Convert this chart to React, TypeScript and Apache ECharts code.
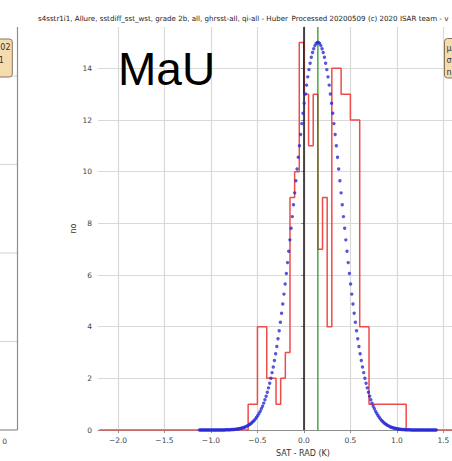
import React, { useEffect, useRef } from "react";
import * as echarts from "echarts";

// Histogram of SAT - RAD differences (0.05 K bins starting at -0.60 K)
const binStart = -0.6;
const binWidth = 0.05;
const binCounts = [
  1, 1, 4, 4, 2, 2, 1, 2, 3, 9, 10, 15, 13, 11, 13, 7, 9, 4, 14, 14, 13, 13, 12,
  12, 4, 4, 1, 1, 1, 1, 1, 1, 1, 1,
];
const histRange = [-2.2, 2.2];

// Gaussian fit, sampled on a regular grid
const fitStart = -1.1236;
const fitStep = 0.0128;
const fitValues = [
  0, 0, 0, 0, 0, 0, 0, 0, 0, 0, 0, 0, 0, 0, 0, 0, 0, 0, 0, 0,
  0, 0, 0.01, 0.01, 0.01, 0.01, 0.01, 0.02, 0.02, 0.02,
  0.03, 0.03, 0.04, 0.05, 0.06, 0.07, 0.08, 0.1, 0.11, 0.13,
  0.16, 0.18, 0.21, 0.24, 0.28, 0.33, 0.37, 0.43, 0.49, 0.56,
  0.64, 0.72, 0.82, 0.92, 1.04, 1.17, 1.31, 1.46, 1.63, 1.81,
  2.0, 2.22, 2.44, 2.69, 2.95, 3.23, 3.53, 3.84, 4.17, 4.52,
  4.88, 5.26, 5.65, 6.06, 6.48, 6.92, 7.36, 7.81, 8.26, 8.72,
  9.18, 9.65, 10.1, 10.56, 11.0, 11.44, 11.86, 12.26, 12.65, 13.01,
  13.35, 13.67, 13.95, 14.2, 14.43, 14.61, 14.76, 14.88, 14.96, 15.0,
  15.0, 14.96, 14.88, 14.76, 14.61, 14.43, 14.2, 13.95, 13.67, 13.35,
  13.01, 12.65, 12.26, 11.86, 11.44, 11.0, 10.56, 10.1, 9.65, 9.18,
  8.72, 8.26, 7.81, 7.36, 6.92, 6.48, 6.06, 5.65, 5.26, 4.88,
  4.52, 4.17, 3.84, 3.53, 3.23, 2.95, 2.69, 2.44, 2.22, 2.0,
  1.81, 1.63, 1.46, 1.31, 1.17, 1.04, 0.92, 0.82, 0.72, 0.64,
  0.56, 0.49, 0.43, 0.37, 0.33, 0.28, 0.24, 0.21, 0.18, 0.16,
  0.13, 0.11, 0.1, 0.08, 0.07, 0.06, 0.05, 0.04, 0.03, 0.03,
  0.02, 0.02, 0.02, 0.01, 0.01, 0.01, 0.01, 0.01, 0, 0,
  0, 0, 0, 0, 0, 0, 0, 0, 0, 0, 0, 0, 0, 0, 0, 0, 0, 0, 0, 0,
];

// Reference lines: zero difference and fitted mean
const zeroLine = 0;
const meanLine = 0.15;

const xTicks = [-2, -1.5, -1, -0.5, 0, 0.5, 1, 1.5];
const yTicks = [0, 2, 4, 6, 8, 10, 12, 14];
const xRange = [-2.215, 2.195];
const yRange = [0, 15.6];

const titleMain =
  "s4sstr1i1, Allure, sstdiff_sst_wst, grade 2b, all, ghrsst-all, qi-all - Huber";
const titleRight = "Processed 20200509 (c) 2020 ISAR team - v";
const bigLabel = "MaU";
const xName = "SAT - RAD (K)";
const yName = "no";

const FONT = '"DejaVu Sans", sans-serif';

function fmtTick(v: number): string {
  const s = Math.abs(v).toFixed(1);
  return v < 0 ? "\u2212" + s : s;
}

export default function App() {
  const ref = useRef<HTMLDivElement>(null);

  useEffect(() => {
    if (!ref.current) return;
    const chart = echarts.init(ref.current, null, { renderer: "svg" });

    const stepData: number[][] = [[histRange[0], 0]];
    binCounts.forEach((c, i) => stepData.push([binStart + i * binWidth, c]));
    stepData.push([binStart + binCounts.length * binWidth, 0]);
    stepData.push([histRange[1], 0]);

    const fitData = fitValues.map((v, i) => [fitStart + i * fitStep, v]);

    const gridLine = "#d9d9d9";
    const spine = "#8e8e8e";

    chart.setOption({
      animation: false,
      textStyle: { fontFamily: FONT },
      grid: {
        left: 98,
        top: 27,
        right: -56,
        bottom: 31,
        containLabel: false,
        outerBoundsMode: "none",
      },
      xAxis: {
        type: "value",
        min: xRange[0],
        max: xRange[1],
        name: xName,
        nameLocation: "middle",
        nameGap: 19,
        nameMoveOverlap: false,
        nameTextStyle: { fontSize: 8, color: "#333", fontFamily: FONT },
        axisLine: { show: true, onZero: false, lineStyle: { color: spine, width: 1.2 } },
        axisTick: {
          show: true,
          length: 3,
          customValues: xTicks,
          lineStyle: { color: spine },
        },
        axisLabel: {
          customValues: xTicks,
          formatter: (v: number) => fmtTick(v),
          fontSize: 7.5,
          color: "#444",
          margin: 6,
          fontFamily: FONT,
        },
        splitLine: { show: true, lineStyle: { color: gridLine, width: 1.2 } },
      },
      yAxis: {
        type: "value",
        min: yRange[0],
        max: yRange[1],
        name: yName,
        nameLocation: "middle",
        nameGap: 21,
        nameMoveOverlap: false,
        nameRotate: 90,
        nameTextStyle: { fontSize: 8, color: "#333", fontFamily: FONT },
        axisLine: { show: true, lineStyle: { color: spine, width: 1.2 } },
        axisTick: {
          show: true,
          length: 3,
          customValues: yTicks,
          lineStyle: { color: spine },
        },
        axisLabel: {
          customValues: yTicks,
          formatter: (v: number) => String(Math.round(v)),
          fontSize: 7.5,
          color: "#444",
          margin: 6,
          fontFamily: FONT,
        },
        splitLine: { show: true, lineStyle: { color: gridLine, width: 1.2 } },
      },
      series: [
        {
          type: "line",
          data: stepData,
          step: "end",
          showSymbol: false,
          lineStyle: { color: "#ee4b4b", width: 1.5 },
          z: 3,
        },
        {
          type: "line",
          data: [
            [zeroLine, yRange[0]],
            [zeroLine, yRange[1]],
          ],
          showSymbol: false,
          lineStyle: { color: "#000", width: 1.2 },
          z: 4,
        },
        {
          type: "line",
          data: [
            [meanLine, yRange[0]],
            [meanLine, yRange[1]],
          ],
          showSymbol: false,
          lineStyle: { color: "#1e8c1e", width: 1.2 },
          z: 4,
        },
        {
          type: "scatter",
          data: fitData,
          symbol: "circle",
          symbolSize: 3.4,
          itemStyle: { color: "#2a2ad6" },
          z: 5,
        },
      ],
      graphic: [
        // neighbouring panel, cut at the left edge
        ...[76, 164.5, 253, 341.5].map((y) => ({
          type: "line",
          z: 1,
          shape: { x1: 0, y1: y, x2: 17, y2: y },
          style: { stroke: gridLine, lineWidth: 1.2 },
        })),
        {
          type: "line",
          z: 2,
          shape: { x1: 17.5, y1: 27, x2: 17.5, y2: 430 },
          style: { stroke: spine, lineWidth: 1.2 },
        },
        {
          type: "line",
          z: 2,
          shape: { x1: 0, y1: 430, x2: 17.5, y2: 430 },
          style: { stroke: spine, lineWidth: 1.2 },
        },
        {
          type: "text",
          z: 2,
          x: 7,
          y: 441,
          style: {
            text: "0",
            font: `7.5px ${FONT}`,
            fill: "#444",
            textAlign: "right",
            textVerticalAlign: "middle",
          },
        },
        {
          type: "rect",
          z: 10,
          shape: { x: -30, y: 39, width: 42.3, height: 38, r: 3 },
          style: { fill: "#f5dcae", stroke: "#857560", lineWidth: 1 },
        },
        {
          type: "text",
          z: 11,
          x: 10.5,
          y: 47.5,
          style: {
            text: "02",
            font: `8px ${FONT}`,
            fill: "#333",
            textAlign: "right",
            textVerticalAlign: "middle",
          },
        },
        {
          type: "text",
          z: 11,
          x: 3.8,
          y: 60,
          style: {
            text: "1",
            font: `8px ${FONT}`,
            fill: "#333",
            textAlign: "right",
            textVerticalAlign: "middle",
          },
        },
        // stats box of this panel
        {
          type: "rect",
          z: 10,
          shape: { x: 444.5, y: 38.5, width: 40, height: 39.5, r: 3 },
          style: { fill: "#f5dcae", stroke: "#857560", lineWidth: 1 },
        },
        ...["\u03bc", "\u03c3", "n"].map((t, i) => ({
          type: "text",
          z: 11,
          x: 446.5,
          y: 48 + i * 12,
          style: {
            text: t,
            font: `8px ${FONT}`,
            fill: "#333",
            textAlign: "left",
            textVerticalAlign: "middle",
          },
        })),
        // titles
        {
          type: "text",
          z: 10,
          x: 38,
          y: 18,
          style: {
            text: titleMain,
            font: `7.1px ${FONT}`,
            fill: "#222",
            textAlign: "left",
            textVerticalAlign: "middle",
          },
        },
        {
          type: "text",
          z: 10,
          x: 291.5,
          y: 18,
          style: {
            text: titleRight,
            font: `7.1px ${FONT}`,
            fill: "#222",
            textAlign: "left",
            textVerticalAlign: "middle",
          },
        },
        {
          type: "text",
          z: 10,
          x: 118,
          y: 69,
          style: {
            text: bigLabel,
            font: '46px "Liberation Sans", Arial, sans-serif',
            fill: "#000",
            textAlign: "left",
            textVerticalAlign: "middle",
          },
        },
      ],
    });

    return () => chart.dispose();
  }, []);

  return (
    <div
      ref={ref}
      style={{
        position: "fixed",
        left: 0,
        top: 0,
        width: 452,
        height: 461,
        background: "#fff",
      }}
    />
  );
}
